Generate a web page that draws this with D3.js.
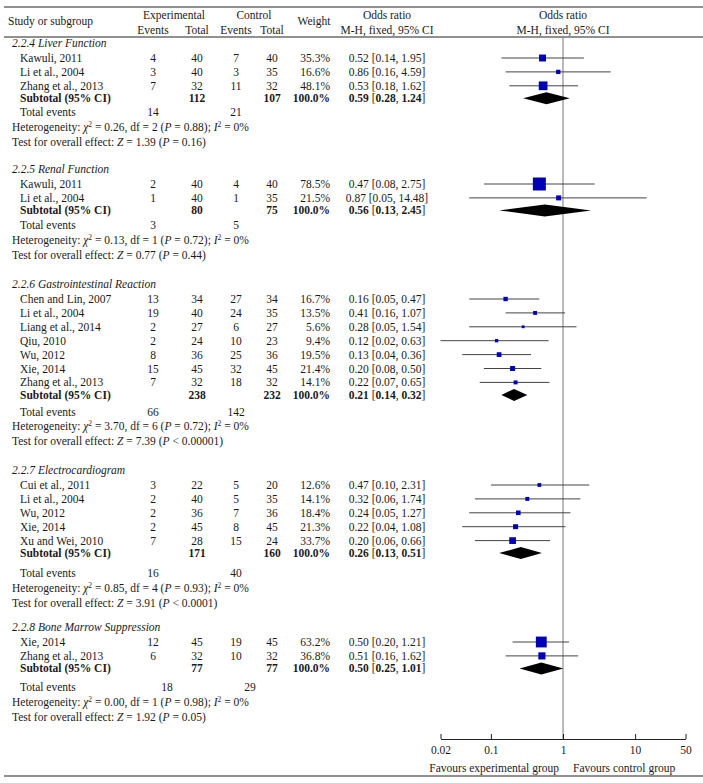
<!DOCTYPE html>
<html><head><meta charset="utf-8">
<script src="https://cdn.jsdelivr.net/npm/d3@7"></script>
<style>
body{margin:0;background:#fff}
text{font-family:"Liberation Serif","Times New Roman",serif;font-size:11.5px;fill:#1a1a1a}
</style>
</head><body><svg id="c" width="703" height="783"></svg>
<script>
const subgroupNames = ["2.2.4 Liver Function","2.2.5 Renal Function","2.2.6 Gastrointestinal Reaction","2.2.7 Electrocardiogram","2.2.8 Bone Marrow Suppression"];
const studyGroup = [0,0,0,1,1,2,2,2,2,2,2,2,3,3,3,3,3,4,4];
const studyNames = ["Kawuli, 2011","Li et al., 2004","Zhang et al., 2013","Kawuli, 2011","Li et al., 2004","Chen and Lin, 2007","Li et al., 2004","Liang et al., 2014","Qiu, 2010","Wu, 2012","Xie, 2014","Zhang et al., 2013","Cui et al., 2011","Li et al., 2004","Wu, 2012","Xie, 2014","Xu and Wei, 2010","Xie, 2014","Zhang et al., 2013"];
const expEvents = [4,3,7,2,1,13,19,2,2,8,15,7,3,2,2,2,7,12,6];
const expTotal  = [40,40,32,40,40,34,40,27,24,36,45,32,22,40,36,45,28,45,32];
const ctlEvents = [7,3,11,4,1,27,24,6,10,25,32,18,5,5,7,8,15,19,10];
const ctlTotal  = [40,35,32,40,35,34,35,27,23,36,45,32,20,35,36,45,24,45,32];
const weights   = [35.3,16.6,48.1,78.5,21.5,16.7,13.5,5.6,9.4,19.5,21.4,14.1,12.6,14.1,18.4,21.3,33.7,63.2,36.8];
const orValue   = [0.52,0.86,0.53,0.47,0.87,0.16,0.41,0.28,0.12,0.13,0.20,0.22,0.47,0.32,0.24,0.22,0.20,0.50,0.51];
const orLow     = [0.14,0.16,0.18,0.08,0.05,0.05,0.16,0.05,0.02,0.04,0.08,0.07,0.10,0.06,0.05,0.04,0.06,0.20,0.16];
const orHigh    = [1.95,4.59,1.62,2.75,14.48,0.47,1.07,1.54,0.63,0.36,0.50,0.65,2.31,1.74,1.27,1.08,0.66,1.21,1.62];
const subExpTotal  = [112,80,238,171,77];
const subCtlTotal  = [107,75,232,160,77];
const subExpEvents = [14,3,66,16,18];
const subCtlEvents = [21,5,142,40,29];
const subOR   = [0.59,0.56,0.21,0.26,0.50];
const subLow  = [0.28,0.13,0.14,0.13,0.25];
const subHigh = [1.24,2.45,0.32,0.51,1.01];
const hetChi2 = ["0.26","0.13","3.70","0.85","0.00"];
const hetDf   = [2,1,6,4,1];
const hetP    = ["0.88","0.72","0.72","0.93","0.98"];
const hetI2   = ["0%","0%","0%","0%","0%"];
const zValue  = ["1.39","0.77","7.39","3.91","1.92"];
const zP      = ["= 0.16","= 0.44","< 0.00001","< 0.0001","= 0.05"];
const axisTicks = [0.02,0.1,1,10,50];

const svg = d3.select("#c");
const f2 = d3.format(".2f");
const x = d3.scaleLog().domain([0.02,50]).range([440.5,685.5]);
const boxSize = d3.scaleLinear().domain([0,100]).range([2,16]);

// layout (positions only)
const groupTop = [43,169,284,470,627];
const totalGap = [14,15,17,20,19];
const totalShift = [0,0,0,0,14];
const colX = {name:20, left:12, ee:153, et:197, ce:236, ct:272, w:330, or:387};
const axisY = 739, plotTop = 37;

function txt(xp, y, segs, anchor){
  const t = svg.append("text").attr("x",xp).attr("y",y).attr("dy","0.35em")
    .attr("text-anchor",anchor||"start");
  if (typeof segs === "string") segs=[{t:segs}];
  segs.forEach(s=>{
    const sp = t.append("tspan").text(s.t);
    if (s.i) sp.attr("font-style","italic");
    if (s.b) sp.attr("font-weight","bold");
    if (s.sup) sp.attr("font-size","7.5px").attr("dy","-4");
    if (s.unsup) sp.attr("dy","4");
  });
  return t;
}

// rules
[7,37,776].forEach(y=>svg.append("line").attr("x1",4).attr("x2",703).attr("y1",y).attr("y2",y)
  .attr("stroke","#222").attr("stroke-width",1));

// headers
txt(8,21,"Study or subgroup");
txt(174,15,"Experimental","middle");
txt(254,15,"Control","middle");
txt(colX.ee,30,"Events","middle");
txt(colX.et,30,"Total","middle");
txt(colX.ce,30,"Events","middle");
txt(colX.ct,30,"Total","middle");
txt(314,21,"Weight","middle");
txt(colX.or,15,"Odds ratio","middle");
txt(colX.or,30,"M-H, fixed, 95% CI","middle");
txt(x(1),15,"Odds ratio","middle");
txt(x(1),30,"M-H, fixed, 95% CI","middle");

// null line
svg.append("line").attr("x1",x(1)).attr("x2",x(1)).attr("y1",plotTop).attr("y2",axisY)
  .attr("stroke","#777").attr("stroke-width",1);

subgroupNames.forEach((g,gi)=>{
  const top = groupTop[gi];
  txt(colX.left, top, [{t:g,i:true}]);
  const idx = d3.range(studyGroup.length).filter(i=>studyGroup[i]===gi);
  let y = top;
  idx.forEach((i,k)=>{
    y = top + 15 + k*13.9;
    txt(colX.name,y,studyNames[i]);
    txt(colX.ee,y,String(expEvents[i]),"middle");
    txt(colX.et,y,String(expTotal[i]),"middle");
    txt(colX.ce,y,String(ctlEvents[i]),"middle");
    txt(colX.ct,y,String(ctlTotal[i]),"middle");
    txt(colX.w,y,weights[i].toFixed(1)+"%","end");
    txt(colX.or,y,`${f2(orValue[i])} [${f2(orLow[i])}, ${f2(orHigh[i])}]`,"middle");
    svg.append("line").attr("x1",x(orLow[i])).attr("x2",x(orHigh[i])).attr("y1",y).attr("y2",y)
      .attr("stroke","#444").attr("stroke-width",1);
    const s = boxSize(weights[i]);
    svg.append("rect").attr("x",x(orValue[i])-s/2).attr("y",y-s/2).attr("width",s).attr("height",s)
      .attr("fill","#0000b4");
  });
  const ys = y + 12.5;
  txt(colX.name,ys,[{t:"Subtotal (95% CI)",b:true}]);
  txt(colX.et,ys,[{t:String(subExpTotal[gi]),b:true}],"middle");
  txt(colX.ct,ys,[{t:String(subCtlTotal[gi]),b:true}],"middle");
  txt(colX.w,ys,[{t:"100.0%",b:true}],"end");
  txt(colX.or,ys,[{t:f2(subOR[gi]),b:true},{t:" ["},{t:f2(subLow[gi]),b:true},{t:", "},{t:f2(subHigh[gi]),b:true},{t:"]"}],"middle");
  const dh = 6;
  svg.append("path").attr("d",`M${x(subLow[gi])},${ys}L${x(subOR[gi])},${ys-dh}L${x(subHigh[gi])},${ys}L${x(subOR[gi])},${ys+dh}Z`)
    .attr("fill","#000");
  const yt = ys + totalGap[gi];
  txt(colX.name,yt,"Total events");
  txt(colX.ee+totalShift[gi],yt,String(subExpEvents[gi]),"middle");
  txt(colX.ce+totalShift[gi],yt,String(subCtlEvents[gi]),"middle");
  const yh = yt + 14.5;
  txt(colX.left,yh,[{t:"Heterogeneity: "},{t:"χ",i:true},{t:"2",sup:true},{t:" = "+hetChi2[gi]+", df = "+hetDf[gi]+" (",unsup:true},
    {t:"P",i:true},{t:" = "+hetP[gi]+"); "},{t:"I",i:true},{t:"2",sup:true},{t:" = "+hetI2[gi],unsup:true}]);
  const yz = yh + 15;
  txt(colX.left,yz,[{t:"Test for overall effect: "},{t:"Z",i:true},{t:" = "+zValue[gi]+" ("},{t:"P",i:true},{t:" "+zP[gi]+")"}]);
});

// axis
const ax = svg.append("g").attr("transform",`translate(0,${axisY})`)
  .call(d3.axisBottom(x).tickValues(axisTicks).tickFormat(d=>String(d)).tickSize(-5).tickSizeOuter(0).tickPadding(7));
ax.select(".domain").attr("stroke","#222");
ax.selectAll(".tick line").attr("stroke","#222");
ax.selectAll(".tick text").attr("font-family","Liberation Serif").attr("font-size","11.5px").attr("fill","#1a1a1a");

txt(x(1)-4,768,"Favours experimental group","end");
txt(x(1)+10,768,"Favours control group","start");
</script></body></html>
